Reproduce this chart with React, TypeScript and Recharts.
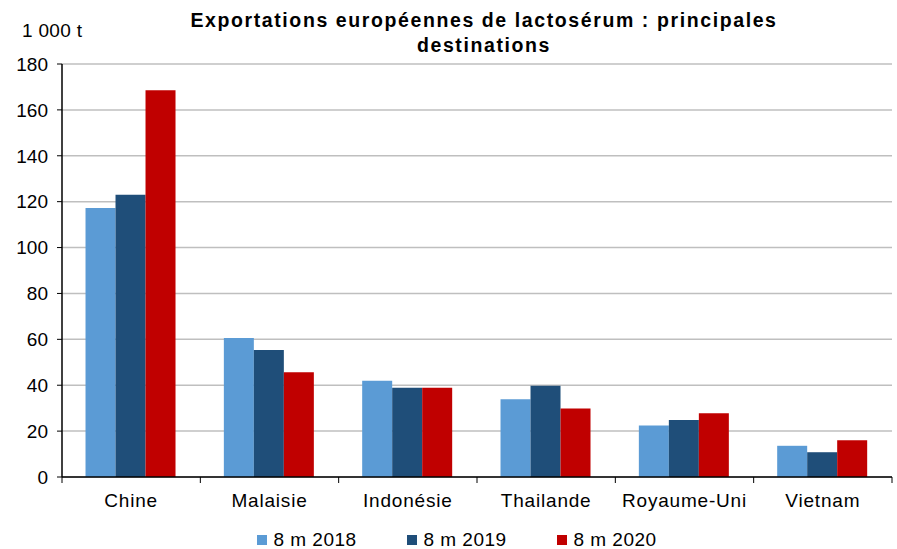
import React from "react";
import { BarChart, Bar, XAxis, YAxis, CartesianGrid, Legend } from "recharts";

const categories = ["Chine", "Malaisie", "Indonésie", "Thailande", "Royaume-Uni", "Vietnam"];
const y2018 = [117.2, 60.6, 42, 33.9, 22.5, 13.6];
const y2019 = [123, 55.4, 38.9, 39.8, 24.8, 10.8];
const y2020 = [168.6, 45.6, 38.9, 29.9, 27.8, 16];
const yTicks = [0, 20, 40, 60, 80, 100, 120, 140, 160, 180];

const seriesNames = ["8 m 2018", "8 m 2019", "8 m 2020"];
const colors = ["#5B9BD5", "#1F4E79", "#C00000"];

const data = categories.map((c, i) => ({
  name: c,
  a: y2018[i],
  b: y2019[i],
  c: y2020[i],
}));

const W = 897;
const H = 549;
const LEFT = 62;
const RIGHT = 5;
const band = (W - LEFT - RIGHT) / categories.length;
const font = "Arial, 'Liberation Sans', sans-serif";

function XTick(props: any) {
  const { x, y, payload, index } = props;
  const last = index === categories.length - 1;
  return (
    <g>
      <line x1={x - band / 2} x2={x - band / 2} y1={y} y2={y + 6} stroke="#000" />
      {last && <line x1={x + band / 2} x2={x + band / 2} y1={y} y2={y + 6} stroke="#000" />}
      <text
        x={x}
        y={y + 30}
        textAnchor="middle"
        fontSize={19}
        letterSpacing={0.8}
        fill="#000"
        fontFamily={font}
      >
        {payload.value}
      </text>
    </g>
  );
}

function LegendContent() {
  return (
    <div
      style={{
        display: "flex",
        justifyContent: "center",
        paddingLeft: 22,
        fontFamily: font,
        fontSize: 19,
        letterSpacing: 0.5,
      }}
    >
      {seriesNames.map((n, i) => (
        <div key={n} style={{ display: "flex", alignItems: "center", width: 150, justifyContent: "center" }}>
          <span style={{ width: 10, height: 10, background: colors[i], marginRight: 6, display: "inline-block" }} />
          <span>{n}</span>
        </div>
      ))}
    </div>
  );
}

export default function App() {
  return (
    <div style={{ position: "absolute", left: 0, top: 0, width: W, height: H, background: "#fff", fontFamily: font }}>
      <div
        style={{
          position: "absolute",
          left: LEFT + 7,
          width: W - LEFT - RIGHT,
          top: 8,
          textAlign: "center",
          fontWeight: "bold",
          fontSize: 19.5,
          letterSpacing: 1.6,
          lineHeight: "25px",
          color: "#000",
        }}
      >
        Exportations européennes de lactosérum : principales
        <br />
        destinations
      </div>
      <div style={{ position: "absolute", left: 22, top: 20, fontSize: 19, letterSpacing: 0.3, color: "#000" }}>
        1 000 t
      </div>
      <BarChart
        width={W}
        height={H}
        data={data}
        margin={{ top: 64, right: RIGHT, left: 0, bottom: 0 }}
        barCategoryGap="17%"
        barGap={0}
      >
        <CartesianGrid vertical={false} stroke="#BFBFBF" strokeWidth={1.5} />
        <XAxis
          dataKey="name"
          height={52}
          tickLine={false}
          tickSize={0}
          tickMargin={0}
          axisLine={{ stroke: "#000", strokeWidth: 1.5 }}
          tick={<XTick />}
          interval={0}
        />
        <YAxis
          width={LEFT}
          domain={[0, 180]}
          ticks={yTicks}
          interval={0}
          tickSize={5}
          tickMargin={9}
          tickLine={{ stroke: "#000" }}
          axisLine={{ stroke: "#000", strokeWidth: 1.5 }}
          tick={{ fontSize: 19, fill: "#000", fontFamily: font }}
        />
        <Legend verticalAlign="bottom" height={20} content={<LegendContent />} />
        <Bar dataKey="a" name={seriesNames[0]} fill={colors[0]} isAnimationActive={false} />
        <Bar dataKey="b" name={seriesNames[1]} fill={colors[1]} isAnimationActive={false} />
        <Bar dataKey="c" name={seriesNames[2]} fill={colors[2]} isAnimationActive={false} />
      </BarChart>
    </div>
  );
}
